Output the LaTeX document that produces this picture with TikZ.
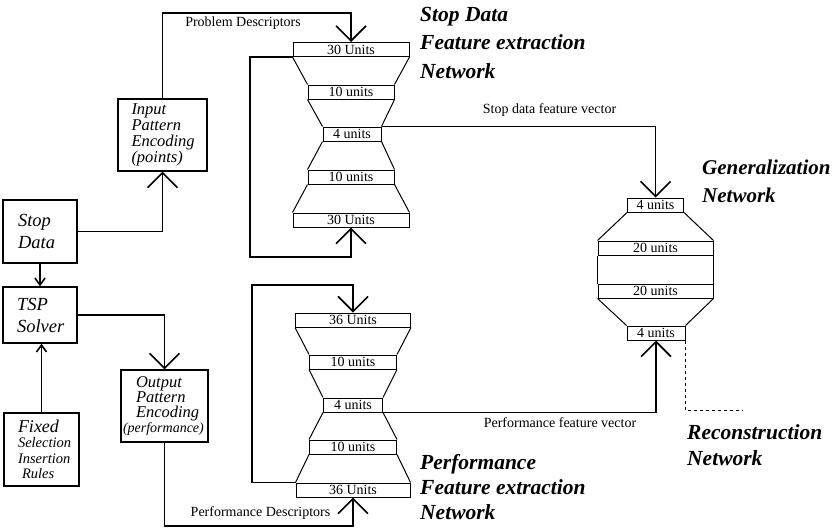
\documentclass[tikz,border=0pt]{standalone}
\usepackage{fontspec}
\setmainfont{Liberation Serif}
\usetikzlibrary{arrows.meta}
\tikzset{
  bigtip/.tip={Straight Barb[length=15pt,width=30pt]},
  smalltip/.tip={Straight Barb[length=7pt,width=10pt]},
  conn/.style={line width=1.6pt},
  side/.style={line width=1pt},
  layer/.style={draw, line width=1pt, inner sep=0pt, minimum height=14pt,
    font=\fontsize{14}{14}\selectfont},
  blockbox/.style={draw, line width=1.2pt, inner sep=2pt, align=left},
  lbl/.style={inner sep=0pt, font=\fontsize{14}{14}\selectfont},
  title/.style={inner sep=0pt, anchor=west, align=left}
}

\begin{document}
\begin{tikzpicture}[x=1pt, y=-1pt]
			%%%%% START %%%%%
			\useasboundingbox (0,0) rectangle (834,531);
			
			% boxes on the left
			\node[blockbox, minimum width=74pt, minimum height=63pt, text width=44pt,
			  font=\itshape\fontsize{18.5}{22}\selectfont] (stop) at (40,231.5) {Stop\\Data};
			\node[blockbox, minimum width=74pt, minimum height=56pt, text width=46pt,
			  font=\itshape\fontsize{18.5}{22}\selectfont] (tsp) at (40,315) {TSP\\Solver};
			\node[blockbox, minimum width=75pt, minimum height=73pt, text width=47pt,
			  font=\itshape\fontsize{18}{15.5}\selectfont] (fixb) at (41.5,449.5)
			  {Fixed\\\fontsize{14.5}{15.5}\selectfont Selection\\Insertion\\\hspace*{4pt}Rules};
			\node[blockbox, minimum width=89pt, minimum height=72pt, text width=62pt,
			  font=\itshape\fontsize{16.5}{16}\selectfont] (inp) at (162.5,135)
			  {Input\\Pattern\\Encoding\\(points)};
			\node[blockbox, minimum width=87pt, minimum height=72pt, text width=57pt,
			  font=\itshape\fontsize{16.5}{15}\selectfont] (outp) at (164.5,406)
			  {Output\\Pattern\\Encoding\\\hspace*{-13pt}\fontsize{14}{15}\selectfont\mbox{(performance)}};
			
			% stop data feature extraction network
			\node[layer, minimum width=116pt] (sa1) at (351,49.5) {30 Units};
			\node[layer, minimum width=86pt] (sa2) at (351,92) {10 units};
			\node[layer, minimum width=58pt] (sa3) at (352,134) {4 units};
			\node[layer, minimum width=86pt] (sa4) at (351,177) {10 units};
			\node[layer, minimum width=116pt] (sa5) at (351,220) {30 Units};
			
			% performance feature extraction network
			\node[layer, minimum width=115pt] (pa1) at (353,320) {36 Units};
			\node[layer, minimum width=87pt] (pa2) at (353,362) {10 units};
			\node[layer, minimum width=59pt] (pa3) at (353,405) {4 units};
			\node[layer, minimum width=87pt] (pa4) at (353,447) {10 units};
			\node[layer, minimum width=114pt] (pa5) at (353,490) {36 Units};
			
			% generalization network
			\node[layer, minimum width=56pt] (g1) at (655.5,205) {4 units};
			\node[layer, minimum width=115pt] (g2) at (655.5,248) {20 units};
			\node[layer, minimum width=115pt] (g3) at (655.5,291) {20 units};
			\node[layer, minimum width=58pt] (g4) at (656,333) {4 units};
			
			\foreach \a/\b in {sa1/sa2,sa2/sa3,sa3/sa4,sa4/sa5,pa1/pa2,pa2/pa3,pa3/pa4,pa4/pa5,g1/g2,g2/g3,g3/g4}
			  \draw[side] (\a.south west) -- (\b.north west) (\a.south east) -- (\b.north east);
			
			% connectors
			\coordinate (ptop) at (351,13);
			\coordinate (sloop) at (250,257);
			\coordinate (ploop) at (252,285);
			\coordinate (pbot) at (353,526);
			\coordinate (rend) at (743,410);
			
			\draw[conn,-bigtip] (stop.east) -| (inp.south);
			\draw[conn,-bigtip] (inp.north) |- (ptop) -- (sa1.north);
			\draw[conn,-bigtip] (sa1.south west) -| (sloop) -| (sa5.south);
			\draw[conn,-bigtip] (sa3.north east) -| (g1.north);
			\draw[conn,-smalltip] (stop.south) -- (tsp.north);
			\draw[conn,-smalltip] (fixb.north) -- (fixb.north |- tsp.south);
			\draw[conn,-bigtip] (tsp.east) -| (outp.north);
			\draw[conn,-bigtip] (outp.south) |- (pbot) -- (pa5.south);
			\draw[conn,-bigtip] (pa5.north west) -| (ploop) -| (pa1.north);
			\draw[conn,-bigtip] (pa3.south east) -| (g4.south);
			\draw[line width=1pt, dash pattern=on 3pt off 3pt] (g4.south east) |- (rend);
			
			% labels
			\node[lbl] (lprob) at (243,23) {Problem Descriptors};
			\node[lbl] (lsfv) at (549.5,110) {Stop data feature vector};
			\node[lbl] (lpfv) at (560,423) {Performance feature vector};
			\node[lbl] (lpdesc) at (260.5,513) {Performance Descriptors};
			
			\node[title, font=\bfseries\itshape\fontsize{21.5}{28.5}\selectfont] (tstop) at (420,42.5)
			  {Stop Data\\Feature extraction\\Network};
			\node[title, font=\bfseries\itshape\fontsize{21}{28}\selectfont] (tgen) at (702,181)
			  {Generalization\\Network};
			\node[title, font=\bfseries\itshape\fontsize{21.5}{25}\selectfont] (tperf) at (420,487)
			  {Performance\\Feature extraction\\Network};
			\node[title, font=\bfseries\itshape\fontsize{21.5}{26}\selectfont] (trec) at (687,445)
			  {Reconstruction\\Network};
			
			%%%%% END %%%%%
\end{tikzpicture}
\end{document}
